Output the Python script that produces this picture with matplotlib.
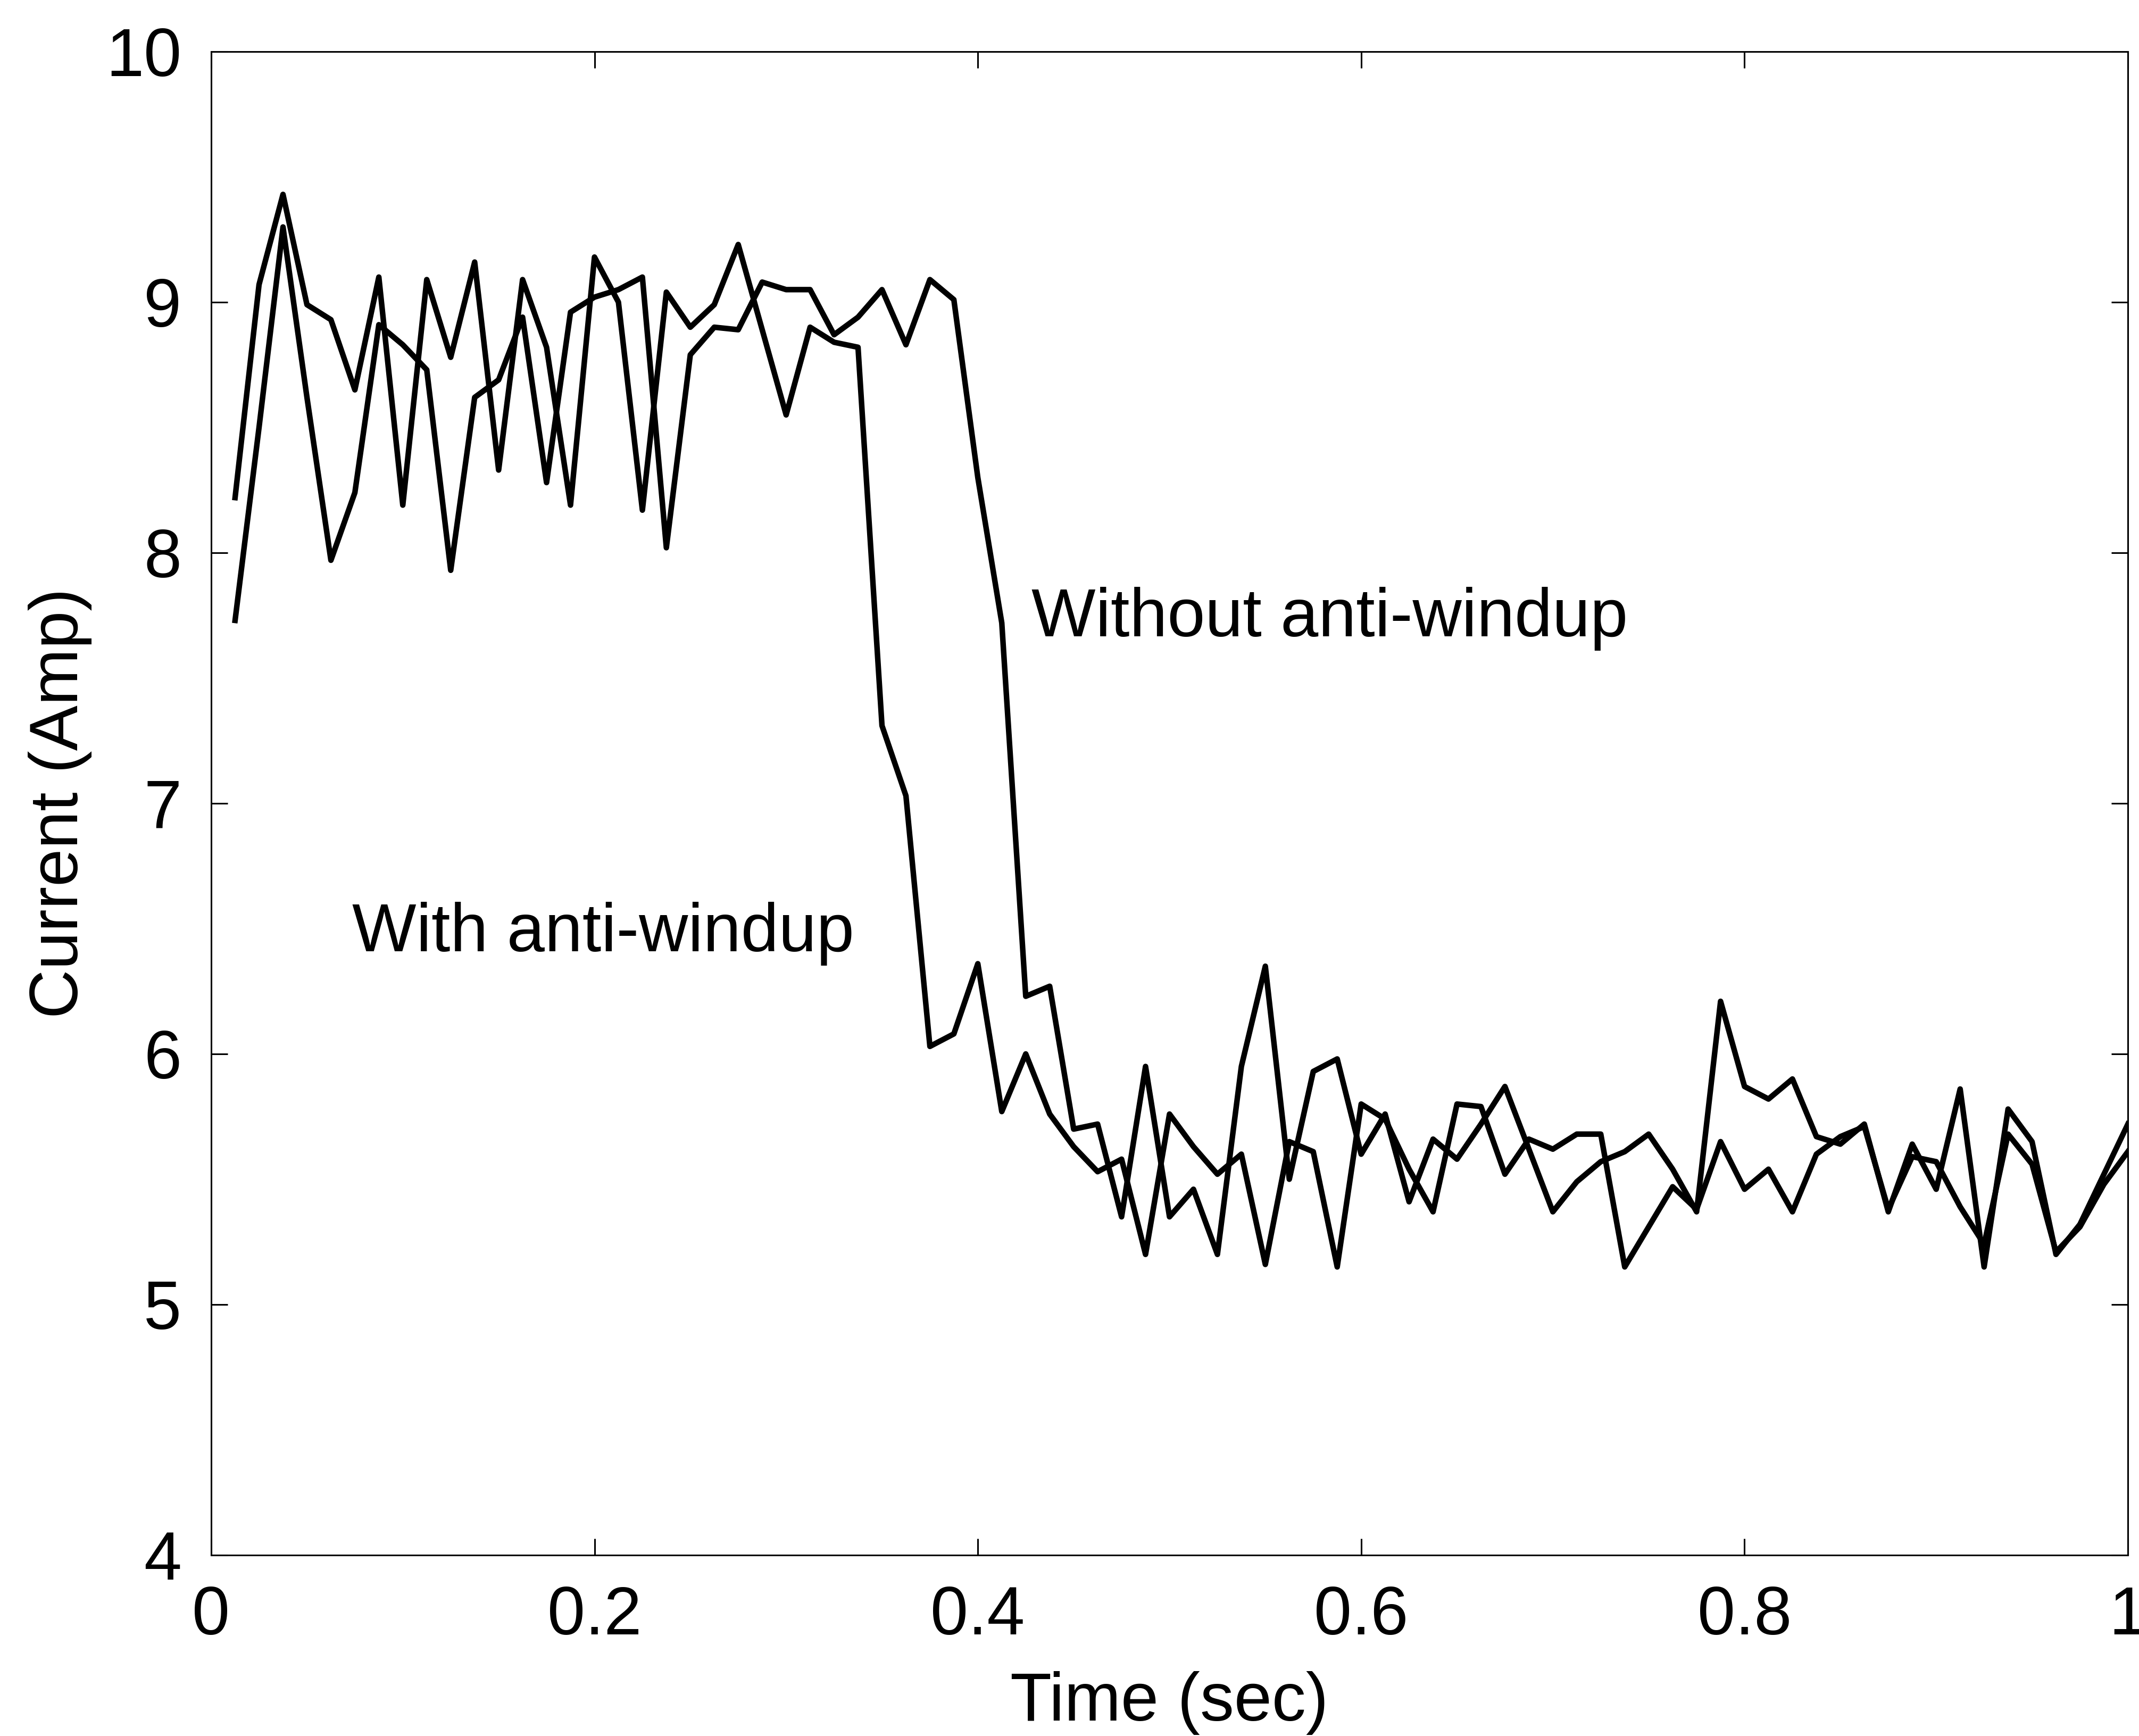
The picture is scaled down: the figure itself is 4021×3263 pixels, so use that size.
import numpy as np
import matplotlib
matplotlib.use("Agg")
from matplotlib import pyplot as plt

# sample period of the logged current (sec)
sample_period = 0.0125

with_antiwindup = [
    8.22, 9.07, 9.43, 8.99, 8.93, 8.65, 9.10, 8.19, 9.09, 8.78,
    9.16, 8.33, 9.09, 8.82, 8.19, 9.18, 9.00, 8.17, 9.04, 8.90,
    8.99, 9.23, 8.89, 8.55, 8.90, 8.84, 8.82, 7.31, 7.03, 6.03,
    6.08, 6.36, 5.77, 6.00, 5.76, 5.63, 5.53, 5.58, 5.20, 5.76,
    5.63, 5.52, 5.60, 5.16, 5.65, 5.61, 5.15, 5.80, 5.74, 5.54,
    5.37, 5.80, 5.79, 5.52, 5.66, 5.62, 5.68, 5.68, 5.15, 5.31,
    5.47, 5.38, 5.65, 5.46, 5.54, 5.37, 5.60, 5.67, 5.71, 5.38,
    5.59, 5.57, 5.39, 5.24, 5.68, 5.56, 5.21, 5.31, 5.48, 5.61,
]

without_antiwindup = [
    7.73, 8.50, 9.30, 8.62, 7.97, 8.24, 8.91, 8.83, 8.73, 7.93,
    8.62, 8.69, 8.94, 8.28, 8.96, 9.02, 9.05, 9.10, 8.02, 8.79,
    8.90, 8.89, 9.08, 9.05, 9.05, 8.87, 8.94, 9.05, 8.83, 9.09,
    9.01, 8.30, 7.72, 6.23, 6.27, 5.70, 5.72, 5.35, 5.95, 5.35,
    5.46, 5.20, 5.95, 6.35, 5.50, 5.93, 5.98, 5.60, 5.76, 5.41,
    5.66, 5.58, 5.72, 5.87, 5.62, 5.37, 5.49, 5.57, 5.61, 5.68,
    5.54, 5.37, 6.21, 5.87, 5.82, 5.90, 5.67, 5.64, 5.72, 5.37,
    5.64, 5.46, 5.86, 5.15, 5.78, 5.65, 5.20, 5.32, 5.52, 5.72,
]

x_ticks = [0, 0.2, 0.4, 0.6, 0.8, 1]
x_tick_labels = ["0", "0.2", "0.4", "0.6", "0.8", "1"]
y_ticks = [4, 5, 6, 7, 8, 9, 10]


def main():
    plt.rcParams["font.family"] = ["Liberation Sans", "DejaVu Sans"]
    plt.rcParams["font.size"] = 92

    time = sample_period * np.arange(1, len(with_antiwindup) + 1)

    fig = plt.figure(figsize=(40.21, 32.63), dpi=100)
    ax = fig.add_axes([0.0987, 0.1042, 0.8961, 0.8661])

    ax.plot(time, with_antiwindup, color="black", linewidth=7.5)
    ax.plot(time, without_antiwindup, color="black", linewidth=7.5)

    ax.set_xlim(0, 1)
    ax.set_ylim(4, 10)
    ax.set_xticks(x_ticks)
    ax.set_xticklabels(x_tick_labels)
    ax.set_yticks(y_ticks)
    ax.tick_params(direction="in", length=22, width=2.2, pad=40,
                   top=True, right=True)
    for spine in ax.spines.values():
        spine.set_linewidth(2.2)

    ax.set_xlabel("Time (sec)")
    ax.xaxis.set_label_coords(0.5, -0.077)
    ax.set_ylabel("Current (Amp)")
    ax.yaxis.set_label_coords(-0.062, 0.5)

    ax.text(0.428, 7.667, "Without anti-windup", va="baseline", ha="left")
    ax.text(0.0736, 6.41, "With anti-windup", va="baseline", ha="left")

    fig.savefig("out.png", dpi=100, facecolor="white")


if __name__ == "__main__":
    main()
